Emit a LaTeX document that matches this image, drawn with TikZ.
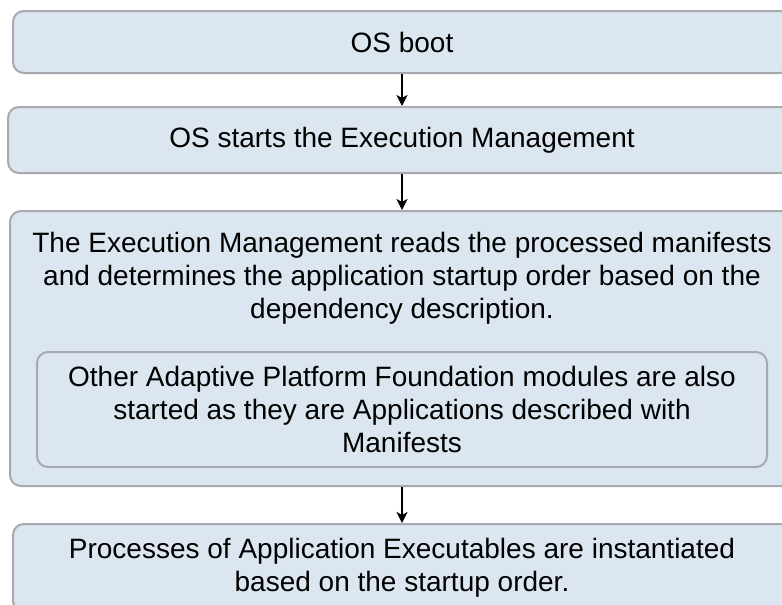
\documentclass[tikz,border=0pt]{standalone}
\usepackage{fontspec}
\setmainfont{Liberation Sans}
\usetikzlibrary{arrows.meta}
\definecolor{boxfill}{RGB}{220,230,241}
\definecolor{boxline}{RGB}{166,170,176}
\tikzset{
  flowbox/.style={draw=boxline, fill=boxfill, line width=2pt, rounded corners=11pt,
    inner sep=0pt, align=center, font=\fontsize{28}{33}\selectfont},
  plaintext/.style={inner sep=0pt, align=center, font=\fontsize{28}{33}\selectfont},
  arr/.style={draw=black, line width=1.6pt, -{Stealth[length=11pt,width=11pt,inset=3pt]}}
}
\begin{document}
\begin{tikzpicture}[x=1pt,y=-1pt]
\useasboundingbox (0,0) rectangle (782,605);
\clip (0,0) rectangle (782,605);
\node[flowbox, minimum width=778pt, minimum height=62pt] (b1) at (402,42) {OS boot};
\node[flowbox, minimum width=788pt, minimum height=66pt] (b2) at (402,140) {OS starts the Execution Management};
\node[flowbox, minimum width=784pt, minimum height=275pt] (b3) at (402,348.5) {};
\node[plaintext] (t3) at (402,278) {The Execution Management reads the processed manifests\\and determines the application startup order based on the\\dependency description.};
\node[flowbox, minimum width=730pt, minimum height=115pt] (b3i) at (402,409.5) {Other Adaptive Platform Foundation modules are also\\started as they are Applications described with\\Manifests};
\node[flowbox, minimum width=778pt, minimum height=88pt] (b4) at (402,568) {Processes of Application Executables are instantiated\\based on the startup order.};
\draw[arr] (b1.south) -- (b2.north);
\draw[arr] (b2.south) -- (b3.north);
\draw[arr] (b3.south) -- (b4.north);
\end{tikzpicture}
\end{document}
